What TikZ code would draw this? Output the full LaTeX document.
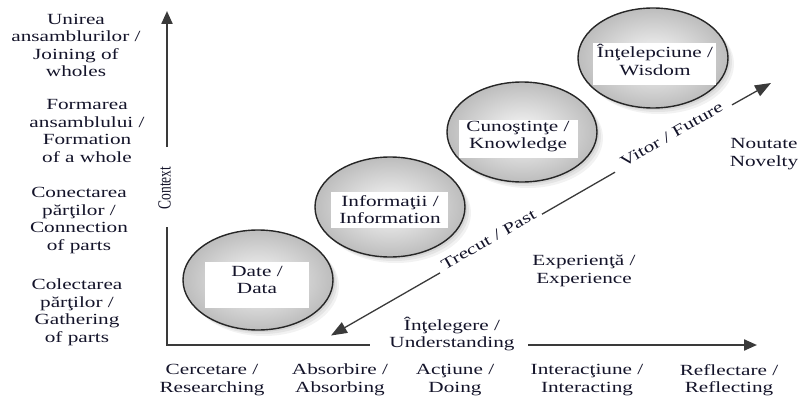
\documentclass[tikz,border=0pt]{standalone}
\usepackage{fontspec}
\setmainfont{Liberation Serif}[FakeStretch=1.37]
\newfontfamily\ctxfont{Liberation Serif}[FakeStretch=0.73]
\usetikzlibrary{arrows.meta,shapes.geometric}
\definecolor{axisc}{HTML}{3A3A3A}
\definecolor{txt}{HTML}{14142A}
\begin{document}
\begin{tikzpicture}[x=1pt,y=-1pt,
  lbl/.style={font=\fontsize{15.5}{17.5}\selectfont, text=txt, align=center, inner sep=0pt},
  bubble/.style={ellipse, draw=black!85, line width=1.4pt, inner color=gray!5, outer color=gray!52,
     minimum width=150pt, minimum height=100pt, inner sep=0pt,
     preaction={fill=black, opacity=0.07, transform canvas={shift={(2pt,-2pt)}}},
     preaction={fill=black, opacity=0.06, transform canvas={shift={(4pt,-4pt)}}},
     preaction={fill=black, opacity=0.05, transform canvas={shift={(6pt,-6pt)}}}},
  whitebox/.style={fill=white, draw=none, inner sep=0pt},
  axis/.style={draw=axisc, line width=2.2pt},
  axtip/.style={-{Triangle[length=13pt,width=11pt]}},
  diag/.style={draw=axisc, line width=1.3pt},
  dtip/.style={-{Triangle[length=16pt,width=12pt]}}]
\useasboundingbox (0,0) rectangle (801,396);

% bubbles
\node[bubble] (e1) at (258,280) {};
\node[bubble] (e2) at (390,207) {};
\node[bubble] (e3) at (522,132) {};
\node[bubble] (e4) at (653,58) {};

% white label boxes
\node[whitebox, minimum width=104pt, minimum height=46pt] (b1) at (257,285) {};
\node[whitebox, minimum width=117pt, minimum height=36pt] (b2) at (389.5,210) {};
\node[whitebox, minimum width=119pt, minimum height=38pt] (b3) at (518.5,139) {};
\node[whitebox, minimum width=123pt, minimum height=42pt] (b4) at (654.5,64) {};

\node[lbl] (t1) at (257,280) {Date /\\Data};
\node[lbl] (t2) at (390,209.5) {Informaţii /\\Information};
\node[lbl] (t3) at (518,136.5) {Cunoştinţe /\\Knowledge};
\node[lbl] (t4) at (655,60) {Înţelepciune /\\Wisdom};

% axes
\coordinate (o) at (167,345);
\coordinate (ytop) at (167,11);
\coordinate (vg1) at (167,227);
\coordinate (vg2) at (167,147);
\coordinate (hg1) at (370,345);
\coordinate (hg2) at (528,345);
\coordinate (xend) at (757,345);
\draw[axis] (vg1) -- (o) -- (hg1);
\draw[axis, axtip] (vg2) -- (ytop);
\draw[axis, axtip] (hg2) -- (xend);
\node[font=\ctxfont\fontsize{18.5}{20}\selectfont, text=txt, rotate=90, inner sep=0pt] (ctx) at (164.5,188) {Context};
\node[lbl] (und) at (452,334) {Înţelegere /\\Understanding};

% diagonal time arrow
\coordinate (da) at (771,83);
\coordinate (db) at (732,104.9);
\coordinate (dc) at (615,172.2);
\coordinate (dd) at (542,214.2);
\coordinate (de) at (440,272.9);
\coordinate (df) at (331,335.5);
\draw[diag, dtip] (db) -- (da);
\draw[diag] (dc) -- (dd);
\draw[diag, dtip] (de) -- (df);
\node[lbl, rotate=29.9, anchor=base] (fut) at (674,139) {Vitor / Future};
\node[lbl, rotate=29.9, anchor=base] (past) at (491,244) {Trecut / Past};

% left labels
\node[lbl] (l1) at (76,45.5) {Unirea\\ansamblurilor /\\Joining of\\wholes};
\node[lbl] (l2) at (87,131) {Formarea\\ansamblului /\\Formation\\of a whole};
\node[lbl] (l3) at (79,220.5) {Conectarea\\părţilor /\\Connection\\of parts};
\node[lbl] (l4) at (77,312.5) {Colectarea\\părţilor /\\Gathering\\of parts};

% bottom labels
\node[lbl] (x1) at (212,380) {Cercetare /\\Researching};
\node[lbl] (x2) at (340,380) {Absorbire /\\Absorbing};
\node[lbl] (x3) at (455,380) {Acţiune /\\Doing};
\node[lbl] (x4) at (587,380) {Interacţiune /\\Interacting};
\node[lbl] (x5) at (729,380) {Reflectare /\\Reflecting};

% other labels
\node[lbl] (exp) at (584,271) {Experienţă /\\Experience};
\node[lbl] (nov) at (764,154) {Noutate\\Novelty};
\end{tikzpicture}
\end{document}
